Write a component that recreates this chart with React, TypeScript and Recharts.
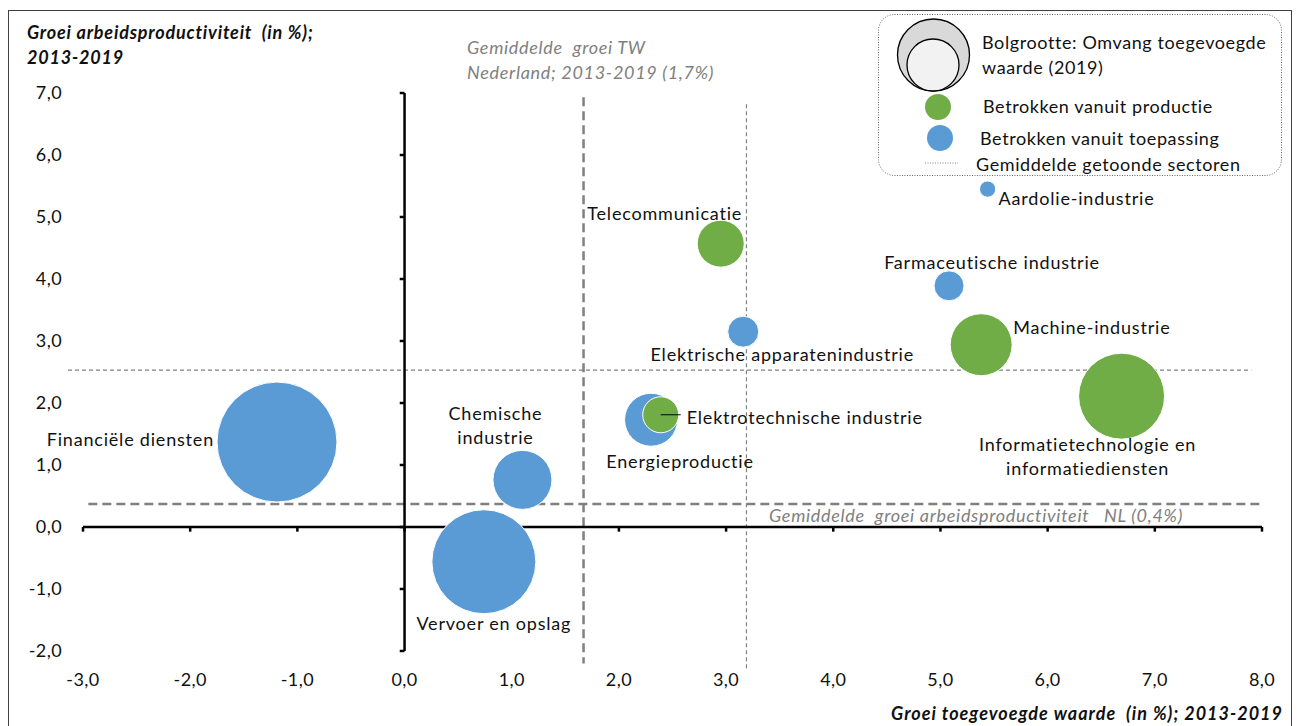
import {
  LabelList,
  Legend,
  ReferenceLine,
  Scatter,
  ScatterChart,
  XAxis,
  YAxis,
  ZAxis,
} from 'recharts'

// sectoren, groei TW (x), groei arbeidsproductiviteit (y), omvang TW (bolgrootte)
const sectors = [
  'Financiële diensten',
  'Vervoer en opslag',
  'Chemische industrie',
  'Energieproductie',
  'Elektrotechnische industrie',
  'Telecommunicatie',
  'Elektrische apparatenindustrie',
  'Farmaceutische industrie',
  'Aardolie-industrie',
  'Machine-industrie',
  'Informatietechnologie en informatiediensten',
]
const groeiTW = [-1.19, 0.74, 1.1, 2.3, 2.39, 2.95, 3.16, 5.08, 5.44, 5.38, 6.69]
const groeiAP = [1.37, -0.56, 0.76, 1.73, 1.81, 4.57, 3.15, 3.89, 5.45, 2.94, 2.11]
const omvangTW = [60, 45, 14.5, 11.7, 5.4, 9.2, 4.0, 3.75, 1.1, 16, 30.8]
const betrokken = [
  'toepassing',
  'toepassing',
  'toepassing',
  'toepassing',
  'productie',
  'productie',
  'toepassing',
  'toepassing',
  'toepassing',
  'productie',
  'productie',
]

const xTicks = [-3, -2, -1, 0, 1, 2, 3, 4, 5, 6, 7, 8]
const yTicks = [-2, -1, 0, 1, 2, 3, 4, 5, 6, 7]

const gemTWNederland = 1.67
const gemAPNederland = 0.37
const gemTWSectoren = 3.19
const gemAPSectoren = 2.53

const BLUE = '#5b9bd5'
const GREEN = '#70ad47'
const GREY = '#808080'
const FONT = 'Lato, "Open Sans", sans-serif'
const FS = 18
const LS = 0.8

const points = sectors.map((name, i) => ({
  name,
  x: groeiTW[i],
  y: groeiAP[i],
  z: omvangTW[i],
  group: betrokken[i],
}))
const toepassing = points.filter((p) => p.group === 'toepassing')
const productie = points.filter((p) => p.group === 'productie')

// label placement relative to bubble centre (px)
const labelPos: Record<string, { dx: number; dy: number; anchor: 'start' | 'middle' | 'end'; lines: string[]; leader?: number }> = {
  'Financiële diensten': { dx: -63, dy: -3, anchor: 'end', lines: ['Financiële diensten'] },
  'Vervoer en opslag': { dx: 10, dy: 61, anchor: 'middle', lines: ['Vervoer en opslag'] },
  'Chemische industrie': { dx: -27, dy: -67, anchor: 'middle', lines: ['Chemische', 'industrie'] },
  Energieproductie: { dx: 29, dy: 41, anchor: 'middle', lines: ['Energieproductie'] },
  'Elektrotechnische industrie': { dx: 26, dy: 2, anchor: 'start', lines: ['Elektrotechnische industrie'], leader: 20 },
  Telecommunicatie: { dx: -56, dy: -31, anchor: 'middle', lines: ['Telecommunicatie'] },
  'Elektrische apparatenindustrie': { dx: 39, dy: 22, anchor: 'middle', lines: ['Elektrische apparatenindustrie'] },
  'Farmaceutische industrie': { dx: 43, dy: -24, anchor: 'middle', lines: ['Farmaceutische industrie'] },
  'Aardolie-industrie': { dx: 11, dy: 9, anchor: 'start', lines: ['Aardolie-industrie'] },
  'Machine-industrie': { dx: 32, dy: -18, anchor: 'start', lines: ['Machine-industrie'] },
  'Informatietechnologie en informatiediensten': {
    dx: -34,
    dy: 48,
    anchor: 'middle',
    lines: ['Informatietechnologie en', 'informatiediensten'],
  },
}

const fmt = (v: number) => v.toFixed(1).replace('.', ',')

function SectorLabel(props: any) {
  const vb = props.viewBox ?? props
  const cx = vb.x + vb.width / 2
  const cy = vb.y + vb.height / 2
  const p = labelPos[props.value as string]
  if (!p) return null
  return (
    <g>
      {p.leader ? <line x1={cx} y1={cy} x2={cx + p.leader} y2={cy} stroke="#000" strokeWidth={1} /> : null}
      {p.lines.map((line, i) => (
        <text
          key={i}
          x={cx + p.dx}
          y={cy + p.dy + i * 24}
          textAnchor={p.anchor}
          dominantBaseline="central"
          fontSize={FS}
          fontFamily={FONT}
          letterSpacing={LS}
          fill="#111"
        >
          {line}
        </text>
      ))}
    </g>
  )
}

function BubbleLegend() {
  const txt = { fontSize: FS, fontFamily: FONT, letterSpacing: 0.6, fill: '#111', dominantBaseline: 'central' as const }
  return (
    <svg width={404} height={170} style={{ overflow: 'visible' }}>
      <rect x={0.5} y={0.5} width={403} height={161} rx={16} fill="#fff" stroke="#606060" strokeDasharray="1 1.5" />
      <circle cx={55.5} cy={41} r={36} fill="#d9d9d9" stroke="#000" strokeWidth={1.3} />
      <circle cx={55} cy={51} r={26} fill="#f2f2f2" stroke="#000" strokeWidth={1.3} />
      <text x={104} y={28} {...txt}>Bolgrootte: Omvang toegevoegde</text>
      <text x={104} y={53} {...txt}>waarde (2019)</text>
      <circle cx={60} cy={93} r={13} fill={GREEN} />
      <text x={105} y={92} {...txt}>Betrokken vanuit productie</text>
      <circle cx={62} cy={124} r={13} fill={BLUE} />
      <text x={102} y={124} {...txt}>Betrokken vanuit toepassing</text>
      <line x1={47} y1={149} x2={80} y2={149} stroke={GREY} strokeDasharray="1 1.5" />
      <text x={98} y={150} {...txt}>Gemiddelde getoonde sectoren</text>
    </svg>
  )
}

export default function App() {
  const tick = { fill: '#111', fontSize: FS, fontFamily: FONT, letterSpacing: 0.4 }
  const title = {
    fontSize: FS,
    fontWeight: 'bold' as const,
    fontStyle: 'italic' as const,
    fontFamily: FONT,
    letterSpacing: LS,
    fill: '#111',
    dominantBaseline: 'central' as const,
    style: { whiteSpace: 'pre' as const },
  }
  const note = {
    fontSize: FS,
    fontStyle: 'italic' as const,
    fontFamily: FONT,
    letterSpacing: 0.7,
    fill: GREY,
    dominantBaseline: 'central' as const,
    style: { whiteSpace: 'pre' as const },
  }
  return (
    <div style={{ position: 'absolute', left: 0, top: 0, width: 1299, height: 726, overflow: 'hidden', background: '#fff' }}>
      <div
        style={{
          position: 'absolute',
          left: 8,
          top: 10,
          width: 1282,
          height: 740,
          border: '1px solid #404040',
        }}
      />
      <div style={{ position: 'absolute', left: 0, top: 0 }}>
        <ScatterChart width={1299} height={726} margin={{ top: 93, right: 37, bottom: 45, left: 23 }}>
          <XAxis
            type="number"
            dataKey="x"
            domain={[-3, 8]}
            ticks={xTicks}
            interval={0}
            tickFormatter={fmt}
            axisLine={false}
            tickLine={false}
            tickSize={0}
            tickMargin={22}
            height={30}
            tick={tick}
          />
          <YAxis
            type="number"
            dataKey="y"
            domain={[-2, 7]}
            ticks={yTicks}
            interval={0}
            tickFormatter={fmt}
            axisLine={false}
            tickLine={false}
            tickSize={0}
            tickMargin={21}
            width={60}
            tick={tick}
          />
          <ZAxis type="number" dataKey="z" domain={[0, 60]} range={[0, Math.PI * 3600]} />

          {/* averages */}
          <ReferenceLine
            segment={[{ x: gemTWSectoren, y: 6.82 }, { x: gemTWSectoren, y: -2.3 }]}
            stroke={GREY}
            strokeWidth={1.2}
            strokeDasharray="4 3"
            ifOverflow="visible"
          />
          <ReferenceLine
            segment={[{ x: -3.14, y: gemAPSectoren }, { x: 7.9, y: gemAPSectoren }]}
            stroke={GREY}
            strokeWidth={1.2}
            strokeDasharray="4 3"
            ifOverflow="visible"
          />
          <ReferenceLine
            segment={[{ x: gemTWNederland, y: 6.93 }, { x: gemTWNederland, y: -2.2 }]}
            stroke={GREY}
            strokeWidth={2.5}
            strokeDasharray="9 5"
            ifOverflow="visible"
          />
          <ReferenceLine
            segment={[{ x: -2.95, y: gemAPNederland }, { x: 8, y: gemAPNederland }]}
            stroke={GREY}
            strokeWidth={2.5}
            strokeDasharray="9 5"
            ifOverflow="visible"
          />

          {/* axes through the origin */}
          <ReferenceLine segment={[{ x: 0, y: -2 }, { x: 0, y: 7 }]} stroke="#000" strokeWidth={2.5} ifOverflow="visible" />
          <ReferenceLine segment={[{ x: -3, y: 0 }, { x: 8, y: 0 }]} stroke="#000" strokeWidth={2.5} ifOverflow="visible" />
          {yTicks.map((v) => (
            <ReferenceLine
              key={'yt' + v}
              segment={[{ x: 0, y: v }, { x: -0.045, y: v }]}
              stroke="#000"
              strokeWidth={2.5}
              ifOverflow="visible"
            />
          ))}
          {xTicks.map((v) => (
            <ReferenceLine
              key={'xt' + v}
              segment={[{ x: v, y: 0 }, { x: v, y: -0.075 }]}
              stroke="#000"
              strokeWidth={2.5}
              ifOverflow="visible"
            />
          ))}

          <Scatter data={toepassing} fill={BLUE} stroke="#fff" strokeWidth={1} isAnimationActive={false}>
            <LabelList dataKey="name" content={SectorLabel} />
          </Scatter>
          <Scatter data={productie} fill={GREEN} stroke="#fff" strokeWidth={1} isAnimationActive={false}>
            <LabelList dataKey="name" content={SectorLabel} />
          </Scatter>

          <Legend
            layout="horizontal"
            verticalAlign="middle"
            align="center"
            content={() => <BubbleLegend />}
            wrapperStyle={{ left: 878, top: 14, width: 404, height: 162 }}
          />

          {/* titles and annotations */}
          <text x={27} y={32} {...title}>
            Groei arbeidsproductiviteit  (in %);
          </text>
          <text x={27} y={57} {...title}>
            2013-2019
          </text>
          <text x={1283} y={713} textAnchor="end" {...title} letterSpacing={1}>
            Groei toegevoegde waarde  (in %); 2013-2019
          </text>
          <text x={467} y={47} {...note}>
            Gemiddelde  groei TW
          </text>
          <text x={467} y={72} {...note}>
            Nederland; 2013-2019 (1,7%)
          </text>
          <text x={769} y={515} {...note}>
            Gemiddelde  groei arbeidsproductiviteit   NL (0,4%)
          </text>
        </ScatterChart>
      </div>
    </div>
  )
}
